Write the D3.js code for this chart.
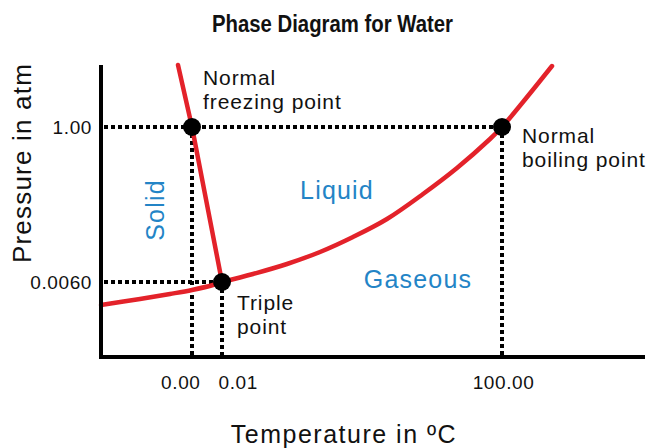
<!DOCTYPE html>
<html>
<head>
<meta charset="utf-8">
<script src="https://cdn.jsdelivr.net/npm/d3@7"></script>
<style>
  html, body { margin: 0; padding: 0; background: #fff; }
  svg { display: block; font-family: "Liberation Sans", Arial, sans-serif; }
</style>
</head>
<body>
<svg id="chart" width="653" height="448"></svg>
<script>
// Phase boundaries of water (temperature in °C, pressure in atm)
const sublimationT = [-32.5, -18.57, -7.86, 0, 0.007, 0.01];
const sublimationP = [0.00416, 0.00464, 0.00504, 0.00536, 0.00576, 0.006];

const vaporT = [0.01, 11.08, 23.22, 35.01, 46.79, 58.93, 71.79, 83.93, 95.72, 100, 107.49, 117.83];
const vaporP = [0.006, 0.0573, 0.1214, 0.1984, 0.2946, 0.41, 0.5703, 0.7371, 0.923, 1.0, 1.1613, 1.3935];

const meltingT = [-5.0, 0, 0.01];
const meltingP = [1.4, 1.0, 0.006];

// Marked points
const pointNames = ["freezing", "boiling", "triple"];
const pointT = [0, 100, 0.01];
const pointP = [1.0, 1.0, 0.006];

// Axis ticks
const tempTicks = [0, 0.01, 100];
const tempTickLabels = ["0.00", "0.01", "100.00"];
const pressureTicks = [1.0, 0.006];
const pressureTickLabels = ["1.00", "0.0060"];

// Text
const titleText = "Phase Diagram for Water";
const xTitle = "Temperature in ºC";
const yTitle = "Pressure in atm";

const svg = d3.select("#chart");
const red = "#e3222a";
const blue = "#2384c6";

// Schematic (piecewise-linear) scales: the region around the triple point is stretched
const x = d3.scaleLinear()
  .domain([-32.5, 0, 0.01, 100, 151])
  .range([101, 192, 222, 502, 645]);
const y = d3.scaleLinear()
  .domain([0, 0.006, 1.0, 1.4])
  .range([357, 282, 127, 65]);

// Title (condensed bold)
svg.append("text")
  .attr("x", 332.5).attr("y", 32)
  .attr("text-anchor", "middle")
  .attr("textLength", 241)
  .attr("lengthAdjust", "spacingAndGlyphs")
  .style("font-weight", "bold")
  .style("font-size", "23px")
  .attr("fill", "#111")
  .text(titleText);

// Dotted guide lines from the axes to the marked points
const guides = svg.append("g")
  .attr("stroke", "#000")
  .attr("stroke-width", 4)
  .attr("stroke-dasharray", "4,3")
  .attr("fill", "none");
const xMin = x.domain()[0];
pointT.forEach((t, i) => {
  guides.append("line")
    .attr("x1", x(xMin) + 3).attr("x2", x(t))
    .attr("y1", y(pointP[i])).attr("y2", y(pointP[i]));
  guides.append("line")
    .attr("x1", x(t)).attr("x2", x(t))
    .attr("y1", y(pointP[i])).attr("y2", y(0) - 2);
});

// Phase boundary curves
const curveLine = (curve) => d3.line()
  .x(d => x(d[0])).y(d => y(d[1]))
  .curve(curve);
const zip = (a, b) => a.map((v, i) => [v, b[i]]);

svg.append("path")
  .attr("d", curveLine(d3.curveCatmullRom)(zip(sublimationT, sublimationP)))
  .attr("fill", "none").attr("stroke", red).attr("stroke-width", 4.5).attr("stroke-linecap", "round");
svg.append("path")
  .attr("d", curveLine(d3.curveCatmullRom)(zip(vaporT, vaporP)))
  .attr("fill", "none").attr("stroke", red).attr("stroke-width", 4.5).attr("stroke-linecap", "round");
svg.append("path")
  .attr("d", curveLine(d3.curveLinear)(zip(meltingT, meltingP)))
  .attr("fill", "none").attr("stroke", red).attr("stroke-width", 4.5).attr("stroke-linecap", "round");

// Axes
const xAxis = d3.axisBottom(x)
  .tickValues(tempTicks)
  .tickFormat((d, i) => tempTickLabels[i])
  .tickSize(0).tickSizeOuter(0);
const gx = svg.append("g")
  .attr("transform", `translate(0,${y(0)})`)
  .call(xAxis);
gx.select(".domain").attr("stroke", "#000").attr("stroke-width", 4)
  .attr("d", `M${x(xMin) - 2},0H${x.range()[4]}`);
gx.selectAll(".tick text")
  .attr("y", 32).attr("dy", null)
  .style("font-size", "19px")
  .style("letter-spacing", "0.6px")
  .attr("fill", "#111")
  .attr("text-anchor", (d, i) => i === 0 ? "end" : i === 1 ? "start" : "middle")
  .attr("x", (d, i) => i === 0 ? 8 : i === 1 ? -4 : 1);

const yAxis = d3.axisLeft(y)
  .tickValues(pressureTicks)
  .tickFormat((d, i) => pressureTickLabels[i])
  .tickSize(0).tickSizeOuter(0);
const gy = svg.append("g")
  .attr("transform", `translate(${x(xMin)},0)`)
  .call(yAxis);
gy.select(".domain").attr("stroke", "#000").attr("stroke-width", 4)
  .attr("d", `M0,${y.range()[3]}V${y(0) + 2}`);
gy.selectAll(".tick text")
  .attr("x", -9).attr("dy", "0.35em")
  .style("font-size", "19px")
  .style("letter-spacing", "0.6px")
  .attr("fill", "#111");

// Axis titles
svg.append("text")
  .attr("x", 344).attr("y", 443)
  .attr("text-anchor", "middle")
  .style("font-size", "25px")
  .style("letter-spacing", "1.5px")
  .attr("fill", "#111")
  .text(xTitle);
svg.append("text")
  .attr("transform", "translate(31,163) rotate(-90)")
  .attr("text-anchor", "middle")
  .style("font-size", "26px")
  .style("letter-spacing", "1.2px")
  .attr("fill", "#111")
  .text(yTitle);

// Marked points
svg.append("g").selectAll("circle")
  .data(pointNames)
  .join("circle")
  .attr("cx", (d, i) => x(pointT[i]))
  .attr("cy", (d, i) => y(pointP[i]))
  .attr("r", 9)
  .attr("fill", "#000");

// Point annotations
const notes = [
  { lines: ["Normal", "freezing point"], x: 203, y: 85 },
  { lines: ["Normal", "boiling point"], x: 522, y: 143 },
  { lines: ["Triple", "point"], x: 237, y: 310 }
];
notes.forEach(n => {
  const t = svg.append("text")
    .attr("x", n.x).attr("y", n.y)
    .style("font-size", "21px")
    .style("letter-spacing", "0.9px")
    .attr("fill", "#111");
  n.lines.forEach((line, i) => {
    t.append("tspan").attr("x", n.x).attr("dy", i === 0 ? 0 : 24).text(line);
  });
});

// Phase region labels
const regions = [
  { text: "Liquid", x: 337, y: 199, rot: 0 },
  { text: "Gaseous", x: 418, y: 288, rot: 0 },
  { text: "Solid", x: 164, y: 210, rot: -90 }
];
regions.forEach(r => {
  svg.append("text")
    .attr("transform", `translate(${r.x},${r.y}) rotate(${r.rot})`)
    .attr("text-anchor", "middle")
    .style("font-size", "25px")
    .style("letter-spacing", "1.2px")
    .attr("fill", blue)
    .text(r.text);
});
</script>
</body>
</html>
